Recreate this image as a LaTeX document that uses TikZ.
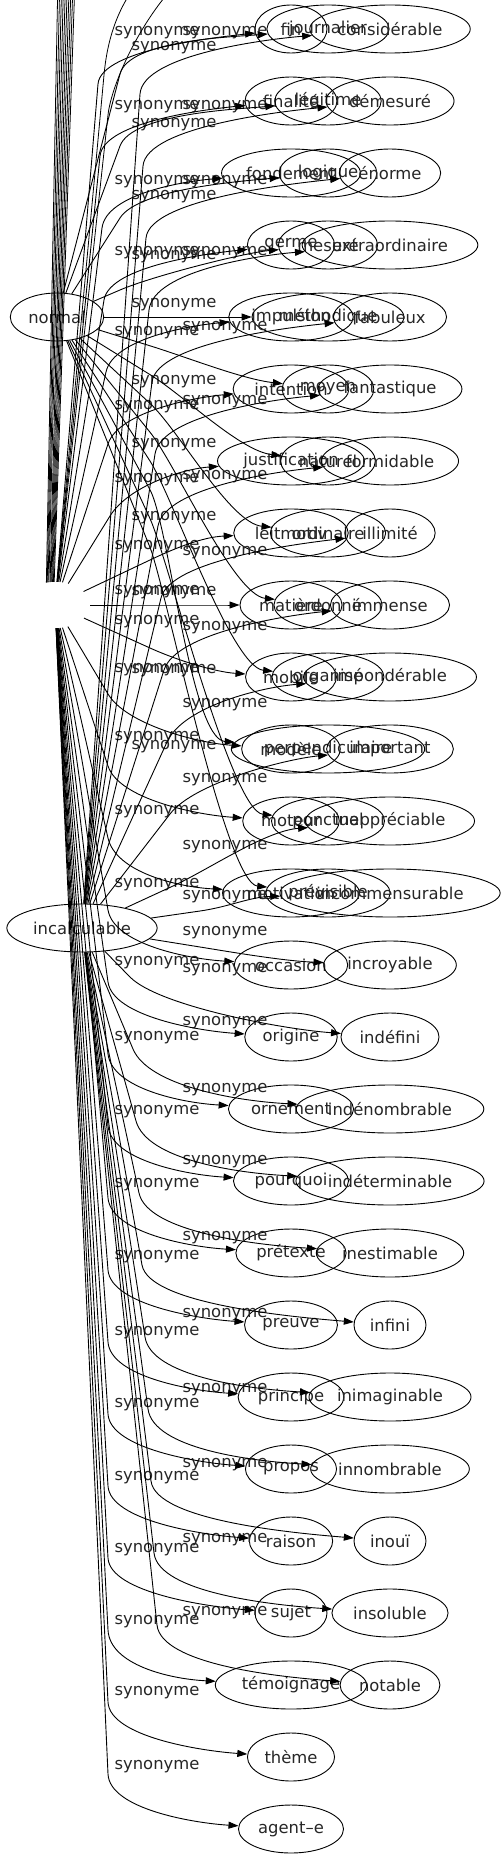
\documentclass[tikz,border=0pt]{standalone}
\usepackage{fontspec}
\setmainfont{DejaVu Sans}
\usetikzlibrary{shapes.geometric,arrows.meta,calc}
\begin{document}
\begin{tikzpicture}[x=1pt,y=-1pt,
  every node/.style={font=\fontsize{16.4pt}{19pt}\selectfont, text=black!85},
  nd/.style={draw, ellipse, line width=0.9pt, inner xsep=4.3pt, inner ysep=2pt, minimum width=72pt, minimum height=48pt},
  hubnd/.style={ellipse, inner sep=0pt, minimum width=70pt, minimum height=46pt},
  lab/.style={inner sep=0pt},
  edge/.style={line width=0.9pt, -{Triangle[length=10pt,width=7pt]}},
  plain/.style={line width=0.8pt}]
\clip (0,0) rectangle (502,1859);
% centres of the three graphs
\node[hubnd] (hub) at (55,605) {};
\node[nd] (normal) at (57,317) {normal};
\node[nd] (incal) at (82,928) {incalculable};
% column 1
\foreach \t [count=\k] in {fin,finalité,fondement,germe,impulsion,intention,justification,leitmotiv,matière,mobile,modèle,moteur,motivation,occasion,origine,ornement,pourquoi,prétexte,preuve,principe,propos,raison,sujet,témoignage,thème,agent–e}{
  \pgfmathsetmacro\yy{29+72*(\k-1)}
  \node[nd] (a\k) at (291,\yy) {\t};
}
% column 2
\foreach \t [count=\k] in {journalier,légitime,logique,mesuré,méthodique,moyen,naturel,ordinaire,ordonné,organisé,perpendiculaire,ponctuel,prévisible}{
  \pgfmathsetmacro\yy{29+72*(\k-1)}
  \node[nd] (b\k) at (328,\yy) {\t};
}
% column 3
\foreach \t [count=\k] in {considérable,démesuré,énorme,extraordinaire,fabuleux,fantastique,formidable,illimité,immense,impondérable,important,inappréciable,incommensurable,incroyable,indéfini,indénombrable,indéterminable,inestimable,infini,inimaginable,innombrable,inouï,insoluble,notable}{
  \pgfmathsetmacro\yy{29+72*(\k-1)}
  \node[nd] (c\k) at (390,\yy) {\t};
}
% labels
\foreach \yy [count=\i] in {33,107,182,253,333,407,480,547,592,622,670,738,812,885,963,1038,1112,1185,1257,1333,1405,1478,1550,1622,1693,1767}
  \node[lab] (la\i) at (157,\yy) {synonyme};
\foreach \yy [count=\i] in {48,125,197,257,305,382,445,518,593,671,747}
  \node[lab] (lb\i) at (174,\yy) {synonyme};
\foreach \yy [count=\i] in {33,107,182,253,328,402,477,553,628,705,780,847,897,933,970,1023,1090,1162,1238,1315,1390,1465,1540,1613}
  \node[lab] (lc\i) at (225,\yy) {synonyme};
% ---- hub edges leaving the picture at the top
\foreach \i in {0,...,9}{
  \pgfmathsetmacro\ang{92+2.2*\i}
  \pgfmathsetmacro\tx{75-1.9*\i}
  \coordinate (top\i) at (\tx,-20);
  \draw[plain] (hub.\ang) -- (top\i);
}
\coordinate (up1) at (140,-20);
\coordinate (up2) at (180,-20);
\coordinate (k1) at (104,75);
\coordinate (k2) at (108,115);
\draw[plain] (hub) -- (k1) .. controls ($(k1)!-30pt!(hub)$) and (115,10) .. (up1);
\draw[plain] (hub) -- (k2) .. controls ($(k2)!-30pt!(hub)$) and (140,20) .. (up2);
% ---- hub edges to column 1
\foreach \k in {1,...,7}{
  \pgfmathsetmacro\yy{29+72*(\k-1)}
  \pgfmathsetmacro\kx{96+2*\k}
  \coordinate (kn) at (\kx,\yy+55);
  \draw[edge] (hub) -- (kn) .. controls ($(kn)!-35pt!(hub)$) and ($(a\k.west)+(-35,8)$) .. (a\k);
}
\coordinate (kn8) at (150,560);
\draw[edge] (hub) -- (kn8) .. controls ($(kn8)!-30pt!(hub)$) and ($(a8.west)+(-30,4)$) .. (a8);
\coordinate (kn9) at (150,605);
\draw[edge] (hub) -- (kn9) .. controls ($(kn9)!-30pt!(hub)$) and ($(a9.west)+(-30,0)$) .. (a9);
\coordinate (kn10) at (150,648);
\draw[edge] (hub) -- (kn10) .. controls ($(kn10)!-30pt!(hub)$) and ($(a10.west)+(-30,-5)$) .. (a10);
\foreach \k in {11,...,26}{
  \pgfmathsetmacro\yy{29+72*(\k-1)}
  \coordinate (kn) at (108,\yy-55);
  \draw[edge] (hub) -- (kn) .. controls ($(kn)!-35pt!(hub)$) and ($(a\k.west)+(-45,-6)$) .. (a\k);
}
% ---- normal edges
\foreach \k in {1,...,4}{
  \pgfmathsetmacro\yy{29+72*(\k-1)}
  \coordinate (kn) at (120,\yy+45);
  \draw[edge] (normal) -- (kn) .. controls ($(kn)!-35pt!(normal)$) and ($(b\k.west)+(-35,8)$) .. (b\k);
}
\draw[edge] (normal) -- (b5);
\foreach \k in {6,...,13}{
  \pgfmathsetmacro\yy{29+72*(\k-1)}
  \pgfmathsetmacro\ky{317+0.4*(\yy-317)}
  \coordinate (kn) at (150,\ky);
  \draw[edge] (normal) -- (kn) .. controls ($(kn)!-40pt!(normal)$) and ($(b\k.west)+(-40,-10)$) .. (b\k);
}
% ---- incalculable edges
\foreach \k in {1,...,12}{
  \pgfmathsetmacro\yy{29+72*(\k-1)}
  \pgfmathsetmacro\kx{140+3*(\k-1)}
  \coordinate (kn) at (\kx,\yy+65);
  \draw[edge] (incal) -- (kn) .. controls ($(kn)!-40pt!(incal)$) and ($(c\k.west)+(-40,10)$) .. (c\k);
}
\coordinate (kn13) at (200,911);
\draw[edge] (incal) -- (kn13) .. controls ($(kn13)!-30pt!(incal)$) and ($(c13.west)+(-30,4)$) .. (c13);
\coordinate (kn14) at (200,947);
\draw[edge] (incal) -- (kn14) .. controls ($(kn14)!-30pt!(incal)$) and ($(c14.west)+(-40,-4)$) .. (c14);
\foreach \k in {15,...,24}{
  \pgfmathsetmacro\yy{29+72*(\k-1)}
  \pgfmathsetmacro\kx{130+3*(\k-15)}
  \coordinate (kn) at (\kx,\yy-60);
  \draw[edge] (incal) -- (kn) .. controls ($(kn)!-40pt!(incal)$) and ($(c\k.west)+(-60,-8)$) .. (c\k);
}
\end{tikzpicture}
\end{document}
